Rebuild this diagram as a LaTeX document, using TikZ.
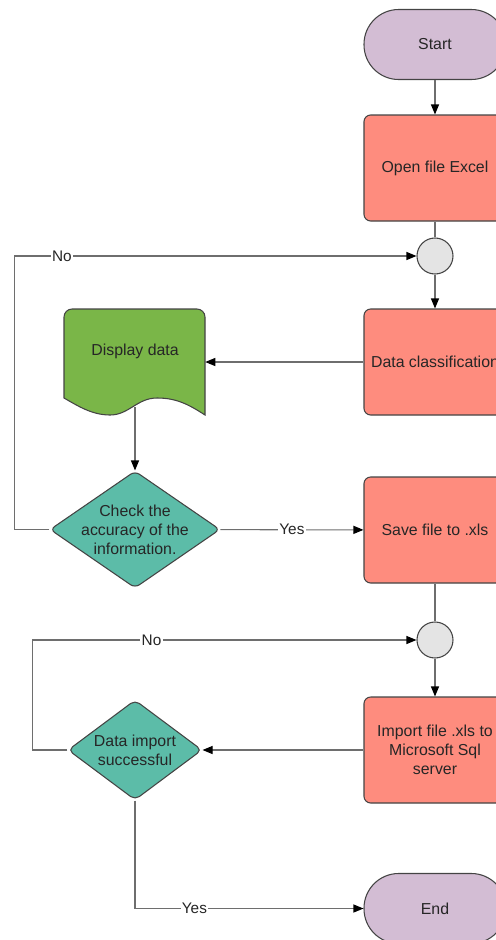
\documentclass[tikz,border=0pt]{standalone}
\usepackage{fontspec}
\setmainfont{Liberation Sans}
\usetikzlibrary{arrows.meta,shapes.geometric}
\definecolor{pillfill}{HTML}{D3BDD4}
\definecolor{boxfill}{HTML}{FE8C7E}
\definecolor{docfill}{HTML}{7AB648}
\definecolor{decfill}{HTML}{5CBCA8}
\definecolor{joinfill}{HTML}{E4E4E4}
\definecolor{edge}{HTML}{444444}
\definecolor{wire}{HTML}{6E6E6E}

\begin{document}
\begin{tikzpicture}[x=0.75pt,y=-0.75pt,
  every node/.style={font=\fontsize{11.9}{14.3}\selectfont, text=black!85},
  pill/.style={draw=edge, line width=0.8pt, fill=pillfill, rounded corners=26pt,
    minimum width=106.5pt, minimum height=52.5pt},
  proc/.style={draw=edge, line width=0.8pt, fill=boxfill, rounded corners=5pt,
    minimum width=106.5pt, minimum height=79.5pt, align=center},
  joint/.style={circle, draw=edge, line width=0.8pt, fill=joinfill,
    minimum size=27pt, inner sep=0pt},
  decide/.style={diamond, draw=edge, line width=0.8pt, fill=decfill,
    rounded corners=4pt, inner sep=0pt},
  wire/.style={draw=wire, line width=0.8pt},
  flow/.style={wire, -{Triangle[length=7.5pt,width=6pt,color=black]}},
  tag/.style={fill=white, inner sep=1pt, font=\fontsize{11.5}{13}\selectfont},
]
\useasboundingbox (0,0) rectangle (496,940);
\clip (0,0) rectangle (496,940);

% main column
\node[pill] (start) at (435,44.5) {Start};
\node[proc] (open) at (435,168) {Open file Excel};
\node[joint] (j1) at (435,256) {};
\node[proc] (cls) at (435,362) {Data classification};
\node[proc] (save) at (435,530) {Save file to .xls};
\node[joint] (j2) at (435,640) {};
\node[proc] (imp) at (435,750) {Import file .xls to\\Microsoft Sql\\server};
\node[pill] (end) at (435,908.5) {End};

% document shape for the displayed data
\node[minimum width=105.75pt, minimum height=79.5pt, inner sep=0pt] (disp) at (134.5,362) {};
\filldraw[draw=edge, line width=0.8pt, fill=docfill]
  (64,398) {[rounded corners=6pt] -- (64,309) -- (205,309)} -- (205,415)
  .. controls (188,404) and (176,398) .. (157,398)
  .. controls (137,398) and (129,415) .. (110,415)
  .. controls (92,415) and (78,406) .. (64,398) -- cycle;
\node at (135,351) {Display data};
\coordinate (dwave) at (135,407);

% decisions
\node[decide, minimum width=127.5pt, minimum height=87.75pt] (chk) at (135,529.5) {};
\node[align=center] at (chk) {Check the\\accuracy of the\\information.};
\node[decide, minimum width=100.5pt, minimum height=75pt] (dec) at (135,750) {};
\node[align=center] at (dec) {Data import\\successful};

% connectors
\draw[flow] (start) -- (open);
\draw[wire] (open) -- (j1);
\draw[flow] (j1) -- (cls);
\draw[flow] (cls) -- (disp);
\draw[flow] (dwave) -- (chk);
\draw[flow] (chk) -- node[tag] {Yes} (save);
\draw[flow] (chk.west) -- ++(-35,0) |- node[tag, pos=0.559] {No} (j1.west);
\draw[wire] (save) -- (j2);
\draw[flow] (j2) -- (imp);
\draw[flow] (imp) -- (dec);
\draw[flow] (dec.west) -- ++(-35,0) |- node[tag, pos=0.655] {No} (j2.west);
\draw[flow] (dec.south) |- node[tag, pos=0.63] {Yes} (end.west);
\end{tikzpicture}
\end{document}
